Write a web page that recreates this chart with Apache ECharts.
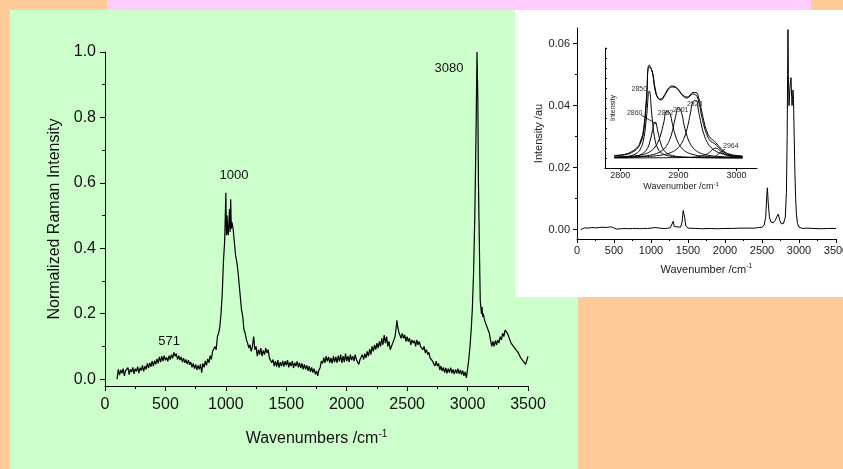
<!DOCTYPE html>
<html>
<head>
<meta charset="utf-8">
<script src="https://cdn.jsdelivr.net/npm/echarts@6.0.0/dist/echarts.min.js"></script>
<style>
  html, body { margin: 0; padding: 0; background: #ffcc99; }
  #chart { width: 843px; height: 469px; }
</style>
</head>
<body>
<div id="chart"></div>
<script>
// main spectrum: [wavenumber, normalized intensity]
const ramanMain = [
  [100,0.000],[110,0.030],[120,0.012],[130,0.028],[140,0.018],[150,0.032],[160,0.010],[170,0.026],
  [180,0.020],[190,0.035],[200,0.014],[210,0.030],[220,0.022],[230,0.036],[240,0.016],[250,0.032],
  [260,0.024],[270,0.038],[280,0.018],[290,0.035],[300,0.026],[310,0.042],[320,0.024],[330,0.040],
  [340,0.030],[350,0.048],[360,0.034],[370,0.050],[380,0.038],[390,0.055],[400,0.040],[410,0.056],
  [420,0.045],[430,0.062],[440,0.048],[450,0.068],[460,0.052],[470,0.070],[480,0.055],[490,0.072],
  [500,0.058],[510,0.066],[520,0.054],[530,0.072],[540,0.060],[550,0.075],[560,0.064],[570,0.082],
  [580,0.070],[590,0.078],[600,0.060],[610,0.072],[620,0.058],[630,0.068],[640,0.052],[650,0.064],
  [660,0.050],[670,0.060],[680,0.046],[690,0.058],[700,0.044],[710,0.052],[720,0.036],[730,0.048],
  [740,0.032],[750,0.045],[760,0.028],[770,0.042],[780,0.030],[790,0.046],[800,0.020],[810,0.048],
  [820,0.036],[830,0.056],[840,0.042],[850,0.062],[860,0.050],[870,0.072],[880,0.060],[890,0.085],
  [900,0.080],[910,0.100],[920,0.090],[930,0.130],[940,0.140],[950,0.160],[960,0.200],[970,0.26],
  [980,0.36],[990,0.42],[1000,0.57],[1005,0.44],[1010,0.50],[1015,0.45],[1020,0.44],[1025,0.48],
  [1030,0.52],[1035,0.45],[1040,0.55],[1045,0.46],[1050,0.48],[1060,0.46],[1070,0.42],[1080,0.38],
  [1090,0.36],[1100,0.33],[1110,0.29],[1120,0.25],[1130,0.21],[1140,0.19],[1150,0.15],[1160,0.14],
  [1170,0.12],[1180,0.11],[1190,0.095],[1200,0.105],[1210,0.085],[1220,0.10],[1230,0.13],[1240,0.09],
  [1250,0.10],[1260,0.07],[1270,0.09],[1280,0.075],[1290,0.095],[1300,0.07],[1310,0.088],[1320,0.075],
  [1330,0.095],[1340,0.08],[1350,0.09],[1360,0.065],[1370,0.07],[1380,0.05],[1390,0.06],[1400,0.04],
  [1410,0.055],[1420,0.038],[1430,0.058],[1440,0.035],[1450,0.052],[1460,0.04],[1470,0.056],[1480,0.038],
  [1490,0.055],[1500,0.042],[1510,0.058],[1520,0.036],[1530,0.052],[1540,0.040],[1550,0.055],[1560,0.034],
  [1570,0.05],[1580,0.04],[1590,0.054],[1600,0.036],[1610,0.05],[1620,0.034],[1630,0.048],[1640,0.03],
  [1650,0.045],[1660,0.03],[1670,0.042],[1680,0.025],[1690,0.04],[1700,0.022],[1710,0.036],[1720,0.02],
  [1730,0.032],[1740,0.015],[1750,0.025],[1760,0.01],[1770,0.028],[1780,0.035],[1790,0.055],[1800,0.048],
  [1810,0.066],[1820,0.05],[1830,0.07],[1840,0.054],[1850,0.068],[1860,0.05],[1870,0.065],[1880,0.048],
  [1890,0.07],[1900,0.052],[1910,0.068],[1920,0.05],[1930,0.072],[1940,0.054],[1950,0.075],[1960,0.05],
  [1970,0.07],[1980,0.052],[1990,0.078],[2000,0.055],[2010,0.07],[2020,0.052],[2030,0.075],[2040,0.058],
  [2050,0.07],[2060,0.055],[2070,0.075],[2080,0.06],[2090,0.065],[2100,0.045],[2110,0.06],[2120,0.055],
  [2130,0.075],[2140,0.06],[2150,0.078],[2160,0.065],[2170,0.085],[2180,0.07],[2190,0.092],[2200,0.075],
  [2210,0.1],[2220,0.085],[2230,0.105],[2240,0.09],[2250,0.11],[2260,0.095],[2270,0.115],[2280,0.1],
  [2290,0.125],[2300,0.105],[2310,0.135],[2320,0.11],[2330,0.13],[2340,0.1],[2350,0.115],[2360,0.09],
  [2370,0.1],[2380,0.095],[2390,0.12],[2400,0.13],[2410,0.16],[2415,0.18],[2420,0.165],[2430,0.145],
  [2440,0.135],[2450,0.125],[2460,0.14],[2470,0.125],[2480,0.135],[2490,0.115],[2500,0.13],[2510,0.115],
  [2520,0.125],[2530,0.105],[2540,0.12],[2550,0.11],[2560,0.118],[2570,0.1],[2580,0.12],[2590,0.105],
  [2600,0.115],[2610,0.1],[2620,0.105],[2630,0.09],[2640,0.1],[2650,0.08],[2660,0.09],[2670,0.075],
  [2680,0.082],[2690,0.065],[2700,0.07],[2710,0.055],[2720,0.06],[2730,0.04],[2740,0.055],[2750,0.04],
  [2760,0.048],[2770,0.028],[2780,0.04],[2790,0.025],[2800,0.036],[2810,0.02],[2820,0.034],[2830,0.018],
  [2840,0.032],[2850,0.02],[2860,0.035],[2870,0.018],[2880,0.03],[2890,0.015],[2900,0.03],[2910,0.018],
  [2920,0.032],[2930,0.016],[2940,0.028],[2950,0.014],[2960,0.026],[2970,0.01],[2980,0.022],[2990,0.004],
  [3000,0.03],[3010,0.06],[3020,0.1],[3030,0.15],[3040,0.22],[3050,0.33],[3060,0.5],[3070,0.75],
  [3078,1.0],[3085,0.85],[3090,0.6],[3100,0.35],[3105,0.24],[3110,0.22],[3115,0.2],[3120,0.22],
  [3125,0.19],[3130,0.2],[3140,0.18],[3150,0.185],[3160,0.16],[3170,0.165],[3180,0.14],[3190,0.12],
  [3200,0.1],[3210,0.115],[3220,0.1],[3230,0.118],[3240,0.105],[3250,0.12],[3260,0.11],[3270,0.13],
  [3280,0.12],[3290,0.14],[3300,0.13],[3310,0.15],[3320,0.155],[3330,0.14],[3340,0.13],[3350,0.125],
  [3360,0.11],[3370,0.115],[3380,0.1],[3390,0.105],[3400,0.09],[3410,0.095],[3420,0.08],[3430,0.085],
  [3440,0.065],[3450,0.07],[3460,0.055],[3470,0.06],[3480,0.045],[3490,0.05],[3500,0.07]
];
const mainPeakNames = ['3080', '1000', '571'];
const mainPeakSpots = [[2846, 0.951], [1067, 0.624], [530, 0.116]];
const mainYTicks = [0, 0.2, 0.4, 0.6, 0.8, 1.0];
const mainYMinor = [0.1, 0.3, 0.5, 0.7, 0.9];

// inset spectrum: [wavenumber, intensity /au]
const insetSpectrum = [
  [50,0.0],[60,0.0004],[100,0.0006],[150,0.0005],[200,0.0007],[250,0.0006],[300,0.0007],[350,0.0008],
  [400,0.0007],[450,0.0009],[480,0.0008],[500,0.0006],[530,0.0002],[600,0.0003],[650,0.0004],[700,0.0003],
  [750,0.0004],[800,0.0004],[850,0.0003],[900,0.0004],[950,0.0004],[1000,0.0005],[1050,0.0007],[1070,0.0009],
  [1090,0.0006],[1150,0.0004],[1200,0.0004],[1260,0.0006],[1280,0.0012],[1300,0.0027],[1315,0.001],[1340,0.0006],
  [1400,0.0008],[1420,0.0025],[1435,0.0062],[1445,0.0068],[1455,0.004],[1470,0.0012],[1500,0.0005],[1600,0.0004],
  [1700,0.0003],[1800,0.0004],[1900,0.0003],[2000,0.0004],[2100,0.0004],[2200,0.0005],[2300,0.0005],[2400,0.0005],
  [2450,0.0007],[2500,0.0008],[2530,0.0015],[2550,0.004],[2565,0.011],[2573,0.0135],[2583,0.009],[2600,0.004],
  [2620,0.0025],[2650,0.0022],[2680,0.003],[2700,0.0042],[2720,0.005],[2740,0.003],[2760,0.0019],[2790,0.002],
  [2800,0.002],[2815,0.004],[2830,0.012],[2840,0.03],[2846,0.05],[2851,0.0645],[2856,0.05],[2865,0.040],
  [2878,0.046],[2892,0.049],[2900,0.043],[2906,0.040],[2912,0.042],[2919,0.045],[2926,0.042],[2935,0.03],
  [2945,0.018],[2955,0.01],[2965,0.005],[2980,0.002],[3000,0.0008],[3050,0.0004],[3100,0.0005],[3200,0.0004],
  [3300,0.0003],[3400,0.0004],[3500,0.0004]
];
const insetYTicks = [0, 0.02, 0.04, 0.06];
const insetYMinor = [0.01, 0.03, 0.05];

// inner inset: fitted bands in the C-H stretching region
const innerWave = [2790,2800,2810,2820,2830,2835,2840,2845,2850,2855,2860,2865,2870,2875,2880,2885,2890,2895,2900,
  2905,2910,2915,2920,2925,2930,2935,2940,2945,2950,2955,2960,2965,2970,2980,2990,3000,3010];
const band2850 = [10.7,11.0,11.5,12.6,15.5,19.2,27.7,49.6,77,49.6,27.7,19.2,15.5,13.6,12.6,11.9,11.5,11.2,11.0,
  10.8,10.7,10.6,10.5,10.4,10.4,10.3,10.3,10.3,10.2,10.2,10.2,10.2,10.2,10.1,10.1,10.1,10.1];
const band2860 = [10.5,10.6,10.9,11.4,12.4,13.3,15.0,18.0,24.1,35.9,46,35.9,24.1,18.0,15.0,13.3,12.4,11.8,11.4,
  11.1,10.9,10.75,10.6,10.5,10.5,10.4,10.4,10.3,10.3,10.3,10.3,10.2,10.2,10.2,10.2,10.1,10.1];
const band2882 = [10.8,11.0,11.3,11.7,12.4,12.9,13.6,14.6,15.9,17.9,21.0,26.0,34.0,45.8,56.7,55.2,43.3,32.1,24.8,
  20.3,17.5,15.6,14.4,13.5,12.8,12.3,12.0,11.7,11.5,11.3,11.1,11.0,10.9,10.7,10.6,10.5,10.4];
const band2901 = [10.6,10.7,10.9,11.1,11.4,11.6,11.9,12.2,12.7,13.2,14.0,15.1,16.6,19.0,22.6,28.3,37.7,50.8,60.6,
  55.9,42.6,31.6,24.6,20.2,17.5,15.6,14.4,13.5,12.9,12.4,12.0,11.7,11.5,11.1,10.9,10.7,10.6];
const band2928 = [10.5,10.6,10.7,10.8,11.0,11.1,11.3,11.4,11.6,11.8,12.1,12.4,12.8,13.4,14.0,15.0,16.2,17.9,20.5,
  24.3,30.2,39.5,52.8,66.0,67.6,55.7,41.9,31.8,25.3,21.1,18.4,16.5,15.2,13.5,12.5,11.9,11.5];
const band2964 = [10.0,10.05,10.05,10.1,10.1,10.1,10.15,10.15,10.2,10.2,10.2,10.25,10.25,10.3,10.3,10.3,10.35,10.35,10.35,
  10.4,10.5,10.6,10.7,10.9,11.1,11.5,12.0,12.9,14.2,16.4,19.0,19.9,18.0,13.6,11.75,11.0,10.6];
const fitSum = [12,12.5,13.5,15.5,20,25,35,65,101,97,80,70,68,71,76,80,81,80.5,78,
  74,71,70,72,74,73,66,52,40,32,27,25,23,20,15,13,12,11.5];
const measured = [12.5,13,14,16.5,21,27,38,68,103,96,78,70,69,72,77,81,82,81,78.5,
  74.5,72,71,73,75.5,75.5,70,57,44,35,30,27.5,25,21.5,16,13.5,12.5,12];
const innerBands = [band2850, band2860, band2882, band2901, band2928, band2964];
const innerPeakNames = ['2850', '2860', '2882', '2901', '2928', '2964'];
const innerPeakSpots = [[2833,79],[2825,55],[2878,55],[2904,58],[2928,64],[2990,22]];
const innerXTicks = [2800, 2900, 3000];

const FONT = 'Liberation Sans, Arial, sans-serif';

function pairs(xs, ys) {
  return xs.map(function (x, i) { return [x, ys[i]]; });
}
function plain(v) { return String(v); }

var chart = echarts.init(document.getElementById('chart'));

var lineStyleBlack = { color: '#000', width: 1 };

var option = {
  animation: false,
  backgroundColor: '#ffcc99',
  textStyle: { fontFamily: FONT },
  graphic: [
    { type: 'rect', z: -10, shape: { x: 107, y: 0, width: 704, height: 10 }, style: { fill: '#ffccff' } },
    { type: 'rect', z: -10, shape: { x: 10, y: 10, width: 568, height: 459 }, style: { fill: '#ccffcc' } },
    { type: 'rect', z: -9, shape: { x: 515, y: 10, width: 328, height: 287 }, style: { fill: '#ffffff' } }
  ],
  grid: [
    { left: 105, top: 52, width: 423, height: 334, outerBoundsMode: 'none' },
    { left: 577, top: 28, width: 259, height: 211, outerBoundsMode: 'none' },
    { left: 605, top: 48, width: 152, height: 120, outerBoundsMode: 'none' }
  ],
  xAxis: [
    {
      gridIndex: 0, type: 'value', min: 0, max: 3500, interval: 500,
      name: 'Wavenumbers /cm{sup|-1}', nameLocation: 'middle', nameGap: 43,
      nameTextStyle: { fontSize: 16, color: '#111', rich: { sup: { fontSize: 10, verticalAlign: 'bottom', padding: [0, 0, 9, 0] } } },
      axisLine: { onZero: false, lineStyle: lineStyleBlack },
      axisTick: { length: 5, lineStyle: lineStyleBlack },
      minorTick: { show: true, splitNumber: 2, length: 3, lineStyle: lineStyleBlack },
      axisLabel: { fontSize: 16, color: '#111', margin: 11, formatter: plain },
      splitLine: { show: false }
    },
    {
      gridIndex: 1, type: 'value', min: 0, max: 3500, interval: 500,
      name: 'Wavenumber /cm{sup|-1}', nameLocation: 'middle', nameGap: 24,
      nameTextStyle: { fontSize: 11, color: '#222', rich: { sup: { fontSize: 7, verticalAlign: 'bottom', padding: [0, 0, 6, 0] } } },
      axisLine: { onZero: false, lineStyle: lineStyleBlack },
      axisTick: { length: 4, lineStyle: lineStyleBlack },
      minorTick: { show: true, splitNumber: 2, length: 2, lineStyle: lineStyleBlack },
      axisLabel: { fontSize: 11, color: '#222', margin: 6, formatter: plain },
      splitLine: { show: false }
    },
    {
      gridIndex: 2, type: 'value', min: 2774, max: 3035,
      name: 'Wavenumber /cm{sup|-1}', nameLocation: 'middle', nameGap: 12,
      nameTextStyle: { fontSize: 9, color: '#222', rich: { sup: { fontSize: 6, verticalAlign: 'bottom', padding: [0, 0, 5, 0] } } },
      axisLine: { onZero: false, lineStyle: lineStyleBlack },
      axisTick: { length: 3, customValues: innerXTicks, lineStyle: lineStyleBlack },
      axisLabel: { fontSize: 9, color: '#222', margin: 3, customValues: innerXTicks, formatter: plain },
      splitLine: { show: false }
    }
  ],
  yAxis: [
    {
      gridIndex: 0, type: 'value', min: -0.021, max: 1.0, position: 'left',
      name: 'Normalized Raman Intensity', nameLocation: 'middle', nameGap: 42,
      nameTextStyle: { fontSize: 16, color: '#111' },
      axisLine: { onZero: false, lineStyle: lineStyleBlack },
      axisTick: { length: 5, customValues: mainYTicks, lineStyle: lineStyleBlack },
      axisLabel: { fontSize: 16, color: '#111', margin: 9, customValues: mainYTicks,
        formatter: function (v) { return v.toFixed(1); } },
      splitLine: { show: false }
    },
    {
      gridIndex: 0, type: 'value', min: -0.021, max: 1.0, position: 'left', offset: 0,
      axisLine: { show: false },
      axisTick: { length: 3, customValues: mainYMinor, lineStyle: lineStyleBlack },
      axisLabel: { show: false },
      splitLine: { show: false }
    },
    {
      gridIndex: 1, type: 'value', min: -0.003, max: 0.065, position: 'left',
      name: 'Intensity /au', nameLocation: 'middle', nameGap: 28,
      nameTextStyle: { fontSize: 11, color: '#222' },
      axisLine: { onZero: false, lineStyle: lineStyleBlack },
      axisTick: { length: 4, customValues: insetYTicks, lineStyle: lineStyleBlack },
      axisLabel: { fontSize: 11, color: '#222', margin: 7, customValues: insetYTicks,
        formatter: function (v) { return v.toFixed(2); } },
      splitLine: { show: false }
    },
    {
      gridIndex: 1, type: 'value', min: -0.003, max: 0.065, position: 'left', offset: 0,
      axisLine: { show: false },
      axisTick: { length: 2, customValues: insetYMinor, lineStyle: lineStyleBlack },
      axisLabel: { show: false },
      splitLine: { show: false }
    },
    {
      gridIndex: 2, type: 'value', min: 0, max: 120, interval: 10, position: 'left',
      name: 'Intensity', nameLocation: 'middle', nameGap: -12,
      nameTextStyle: { fontSize: 7, color: '#222' },
      axisLine: { onZero: false, lineStyle: lineStyleBlack },
      axisTick: { inside: true, length: 2, lineStyle: lineStyleBlack },
      axisLabel: { show: false },
      splitLine: { show: false }
    }
  ],
  series: []
};

option.series.push({
  type: 'line', xAxisIndex: 0, yAxisIndex: 0, data: ramanMain,
  showSymbol: false, lineStyle: { color: '#000', width: 1.2 },
  markPoint: {
    symbol: 'circle', symbolSize: 1, itemStyle: { color: 'rgba(0,0,0,0)' },
    label: { show: true, position: 'inside', fontSize: 13, color: '#111', formatter: '{b}' },
    data: mainPeakNames.map(function (n, i) { return { name: n, coord: mainPeakSpots[i] }; })
  }
});

option.series.push({
  type: 'line', xAxisIndex: 1, yAxisIndex: 2, data: insetSpectrum,
  showSymbol: false, lineStyle: lineStyleBlack
});

innerBands.forEach(function (band) {
  option.series.push({
    type: 'line', xAxisIndex: 2, yAxisIndex: 4, data: pairs(innerWave, band),
    showSymbol: false, smooth: true, lineStyle: lineStyleBlack
  });
});

option.series.push({
  type: 'line', xAxisIndex: 2, yAxisIndex: 4, data: pairs(innerWave, fitSum),
  showSymbol: false, smooth: true, lineStyle: lineStyleBlack
});

option.series.push({
  type: 'line', xAxisIndex: 2, yAxisIndex: 4, data: pairs(innerWave, measured),
  showSymbol: false, smooth: true, lineStyle: lineStyleBlack,
  markPoint: {
    symbol: 'circle', symbolSize: 1, itemStyle: { color: 'rgba(0,0,0,0)' },
    label: { show: true, position: 'inside', fontSize: 7, color: '#333', formatter: '{b}' },
    data: innerPeakNames.map(function (n, i) { return { name: n, coord: innerPeakSpots[i] }; })
  },
  markLine: {
    symbol: 'none', silent: true, label: { show: false },
    lineStyle: { color: '#000', width: 0.8, type: 'solid' },
    data: [
      [{ coord: [2836, 53] }, { coord: [2862, 44] }],
      [{ coord: [2980, 19] }, { coord: [2964, 12] }]
    ]
  }
});

chart.setOption(option);

window.addEventListener('resize', function () {
  chart.resize();
});
</script>
</body>
</html>
